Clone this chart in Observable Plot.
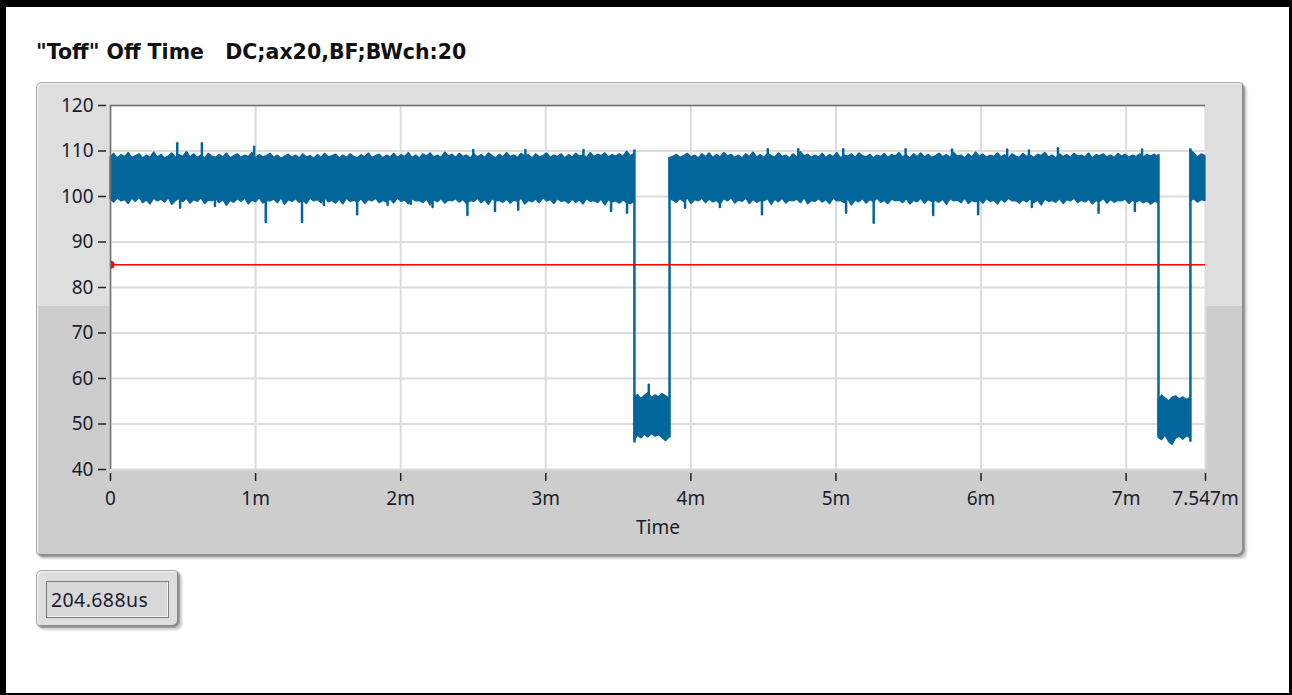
<!DOCTYPE html>
<html>
<head>
<meta charset="utf-8">
<script src="https://cdn.jsdelivr.net/npm/d3@7"></script>
<script src="https://cdn.jsdelivr.net/npm/@observablehq/plot@0.6"></script>
<style>
  html, body { margin: 0; padding: 0; background: #fff; }
  #page { position: relative; width: 1292px; height: 695px; background: #fff; overflow: hidden; font-family: "Noto Sans", sans-serif; }
  #border { position: absolute; left: 0; top: 0; width: 1292px; height: 695px; box-sizing: border-box;
            border-style: solid; border-color: #000; border-width: 7px 3px 2px 6px; pointer-events: none; z-index: 10; }
  #title { position: absolute; left: 36px; top: 40px; font-family: "DejaVu Sans", sans-serif; font-weight: 700; font-size: 20.5px; color: #111; white-space: pre; letter-spacing: 0px; }
  #panel { position: absolute; left: 36px; top: 82px; width: 1209px; height: 475px; box-sizing: border-box;
           border: 1px solid #a2a2a2; border-radius: 6px;
           background: linear-gradient(to bottom, #dedede 0px, #dedede 223px, #cdcdcd 223px, #cdcdcd 100%);
           box-shadow: inset 1px 1px 0 #f6f6f6, inset -2px -2px 0 #8e8e8e, 2px 2px 2px #cfcfcf; }
  #chart { position: absolute; left: 36px; top: 82px; }
  #ind { position: absolute; left: 36px; top: 570px; width: 144px; height: 58px; box-sizing: border-box;
         border: 1px solid #a2a2a2; border-radius: 6px; background: #dedede;
         box-shadow: inset 1px 1px 0 #f6f6f6, inset -2px -2px 0 #8e8e8e, 2px 2px 2px #cfcfcf; }
  #indbox { position: absolute; left: 46px; top: 581px; width: 123px; height: 37px; box-sizing: border-box;
            border: 1px solid #7c7c7c; background: #d8d8d8; box-shadow: inset -1px -1px 0 #f4f4f4;
            font-size: 19.5px; line-height: 35px; padding-left: 4px; color: #1c1c30; white-space: pre; letter-spacing: 0.4px; }
</style>
</head>
<body>
<div id="page">
  <div id="title"></div>
  <div id="panel"></div>
  <div id="chart"></div>
  <div id="ind"></div>
  <div id="indbox"></div>
  <div id="border"></div>
</div>
<script>
// ---- texts ----
const titleText = "\"Toff\" Off Time   DC;ax20,BF;BWch:20";
const xLabel = "Time";
const indicatorText = "204.688us";

// ---- axes ----
const xTicks = [0, 1, 2, 3, 4, 5, 6, 7, 7.547];          // ms
const xTickLabels = ["0", "1m", "2m", "3m", "4m", "5m", "6m", "7m", "7.547m"];
const yTicks = [40, 50, 60, 70, 80, 90, 100, 110, 120];
const xDomain = [0, 7.547];
const yDomain = [40, 120];

// ---- threshold ----
const threshold = 85;

// ---- segment boundaries (ms) ----
const segNames  = ["on1", "off1", "on2", "off2", "on3"];
const segStarts = [0, 3.611, 3.853, 7.223, 7.443];
const segEnds   = [3.611, 3.853, 7.223, 7.443, 7.547];

// ---- envelope (max / min) of the noisy trace ----
const on1Hi = [108.6,109.4,108.4,109.1,108.7,109.6,108.5,108.9,109.3,108.4,
               109.0,108.5,109.7,108.6,109.2,108.4,108.8,109.5,108.5,109.1,
               108.7,109.8,108.6,109.3,108.5,109.0,108.4,109.4,108.8,108.5,
               109.2,108.6,109.5,108.4,108.9,109.3,108.5,109.0,108.7,109.6,
               108.4,109.1,108.6,108.9,109.4,108.5,109.0,108.3,108.8,109.2,
               108.5,109.0,108.4,109.3,108.6,108.9,108.3,109.1,108.5,109.4,
               108.6,108.9,109.2,108.4,109.0,108.5,109.3,108.7,108.4,109.1,
               108.6,109.5,108.5,108.9,109.2,108.4,109.0,108.6,109.4,108.5,
               109.1,108.7,109.6,108.5,109.0,108.4,109.3,108.8,109.5,108.6,
               109.0,108.5,109.7,108.8,109.2,108.5,109.4,108.7,109.0,108.4,
               109.3,108.6,109.1,108.5,109.5,108.9,108.4,109.2,108.6,109.6,
               108.7,109.0,108.5,109.4,108.8,109.1,108.4,109.3,108.6,108.9,
               109.5,108.5,109.0,108.7,109.3,108.4,109.1,108.6,109.4,108.8,
               109.0,108.5,109.6,108.7,109.2,108.9,109.5,108.6,109.1,108.8,
               109.3,108.7,109.9,108.8,109.4];
const on1Lo = [99.4,98.6,99.6,98.9,99.2,98.3,99.5,98.8,99.7,98.5,
               99.1,98.2,99.5,98.9,99.3,98.6,99.6,98.1,99.0,99.4,
               98.7,99.5,98.4,99.2,98.8,99.6,98.3,99.1,98.9,99.5,
               98.5,99.2,97.9,99.0,98.6,99.4,98.8,99.5,98.2,99.1,
               98.7,99.6,98.4,99.0,98.9,99.3,98.5,99.6,98.1,99.2,
               98.8,99.4,98.6,99.1,98.3,99.5,98.9,99.2,98.5,99.6,
               98.7,99.0,98.4,99.3,98.2,99.5,98.8,99.1,98.6,99.4,
               98.3,99.2,98.9,99.5,98.5,99.0,98.7,99.3,98.4,99.6,
               98.8,99.1,98.2,99.4,98.9,99.0,98.5,99.3,98.0,99.2,
               98.7,99.5,98.4,99.1,98.9,99.4,98.6,99.2,98.3,99.0,
               98.8,99.5,98.5,99.2,98.1,99.4,98.9,99.0,98.6,99.3,
               98.4,99.1,98.8,99.5,98.2,99.0,98.7,99.3,98.5,99.6,
               98.9,99.2,98.3,99.4,98.8,99.0,98.4,99.3,98.6,99.1,
               98.2,99.4,98.8,99.0,98.5,99.3,98.0,99.2,98.7,98.9,
               98.4,99.1,98.6,98.3,98.8];
const off1Hi = [55.8,56.4,55.5,56.2,56.8,55.7,56.3,55.9,56.6,56.1,55.6];
const off1Lo = [46.3,47.4,46.8,47.6,47.0,47.8,47.2,47.5,46.9,46.2,47.0];
const on2Hi = [108.4,108.7,109.2,108.5,108.9,109.4,108.6,109.0,108.4,109.3,
               108.7,109.5,108.5,109.1,108.6,109.6,108.8,109.2,108.5,109.0,
               108.4,109.3,108.7,109.7,108.6,109.1,108.5,109.4,108.9,108.6,
               109.5,108.7,109.0,108.4,109.3,108.6,109.8,108.8,109.2,108.5,
               109.0,108.6,109.4,108.5,109.1,108.7,109.6,108.4,109.0,108.8,
               109.3,108.5,109.5,108.9,108.6,109.2,108.4,109.0,108.7,109.4,
               108.5,109.1,108.8,109.6,108.6,109.0,108.4,109.3,108.7,109.5,
               108.6,109.2,108.5,108.9,109.4,108.7,109.1,108.5,109.6,108.8,
               109.0,108.4,109.3,108.6,109.7,108.8,109.2,108.5,109.0,108.7,
               109.5,108.6,109.1,108.4,109.3,108.8,108.5,109.4,108.7,109.0,
               108.5,109.2,108.9,109.6,108.6,109.0,108.4,109.3,108.7,109.1,
               108.5,109.4,108.8,109.0,108.6,109.5,108.4,109.1,108.9,109.3,
               108.6,109.0,108.5,109.4,108.8,109.2,108.5,109.0,108.7,109.3,
               108.6,109.1,108.8,109.2,108.7];
const on2Lo = [99.5,99.1,98.6,99.4,98.8,99.6,98.3,99.2,98.9,99.5,
               98.5,99.3,98.7,99.0,98.2,99.4,98.9,99.6,98.4,99.1,
               98.8,99.5,98.3,99.2,98.6,99.0,98.9,99.4,98.1,99.3,
               98.7,99.5,98.4,99.1,98.9,99.3,98.5,99.6,98.2,99.0,
               98.8,99.4,98.6,99.2,98.3,99.5,98.9,99.0,98.5,99.3,
               98.0,99.1,98.7,99.4,98.4,99.2,98.8,99.5,98.6,99.0,
               98.3,99.3,98.9,99.1,98.5,99.4,98.2,99.0,98.7,99.5,
               98.4,99.2,98.8,99.0,98.6,99.3,98.1,99.4,98.9,99.1,
               98.5,99.5,98.3,99.0,98.7,99.2,98.4,99.4,98.8,99.1,
               98.2,99.3,98.6,99.5,98.9,99.0,98.4,99.2,98.7,99.4,
               98.5,99.1,98.0,99.3,98.8,99.0,98.6,99.4,98.3,99.2,
               98.9,99.5,98.5,99.1,98.7,99.3,98.2,99.0,98.8,99.4,
               98.4,99.2,98.6,99.0,98.9,99.3,98.3,99.1,98.7,99.0,
               98.5,98.9,98.2,98.8,98.6];
const off2Hi = [55.2,56.3,55.6,55.0,55.8,56.1,55.4,55.9,55.3,55.7];
const off2Lo = [47.0,46.4,47.5,46.0,45.4,46.8,47.2,46.5,47.3,46.9];
const on3Hi = [110.2,109.5,108.6,109.3,108.9];
const on3Lo = [98.8,99.4,98.6,99.2,99.0];

// ---- isolated spikes (ms, value) ----
const upSpikeT   = [0.46, 0.63, 0.99, 2.50, 2.86, 3.26, 4.53, 4.74, 5.05, 5.48, 5.80, 6.18, 6.33, 6.53, 7.11];
const upSpikeV   = [111.6, 111.6, 110.8, 110.1, 110.1, 110.1, 110.3, 110.3, 110.3, 110.3, 110.2, 110.2, 110.0, 110.5, 110.2];
const downSpikeT = [0.48, 0.72, 1.07, 1.32, 1.47, 1.70, 1.91, 2.07, 2.22, 2.46, 2.65, 2.81, 3.45, 3.56,
                    3.96, 4.20, 4.49, 5.07, 5.26, 5.67, 5.98, 6.35, 6.81, 7.06];
const downSpikeV = [97.4, 97.8, 94.3, 94.3, 98.0, 96.0, 98.0, 98.3, 97.6, 95.8, 96.7, 97.0, 96.7, 96.3,
                    97.4, 97.6, 96.0, 96.3, 94.1, 95.8, 96.0, 97.6, 96.3, 96.7];
const dipUpSpikeT = [3.71];
const dipUpSpikeV = [58.5];

// ---- transitions (ms, top, bottom) ----
const edgeT      = [3.611, 3.853, 7.223, 7.443];
const edgeTop    = [110.2, 108.6, 109.2, 110.5];
const edgeBottom = [45.8, 47.0, 47.5, 46.0];

// ---- build tables ----
const segHi = [on1Hi, off1Hi, on2Hi, off2Hi, on3Hi];
const segLo = [on1Lo, off1Lo, on2Lo, off2Lo, on3Lo];
const rows = [];
segNames.forEach((name, s) => {
  const hi = segHi[s], lo = segLo[s], n = hi.length;
  hi.forEach((h, i) => rows.push({seg: name, t: segStarts[s] + (segEnds[s] - segStarts[s]) * i / (n - 1), hi: h, lo: lo[i]}));
});
const spikes = [
  ...upSpikeT.map((t, i) => ({t, base: 104, v: upSpikeV[i]})),
  ...downSpikeT.map((t, i) => ({t, base: 104, v: downSpikeV[i]})),
  ...dipUpSpikeT.map((t, i) => ({t, base: 51, v: dipUpSpikeV[i]}))
];
const edges = edgeT.map((t, i) => ({t, top: edgeTop[i], bottom: edgeBottom[i]}));

document.getElementById("title").textContent = titleText;
document.getElementById("indbox").textContent = indicatorText;

const blue = "#03669b";
const tickFmt = d => xTickLabels[xTicks.indexOf(d)];

const chart = Plot.plot({
  width: 1209,
  height: 475,
  marginLeft: 74,
  marginRight: 40,
  marginTop: 23,
  marginBottom: 88,
  style: {background: "transparent", fontFamily: "'Noto Sans', sans-serif", fontSize: "19px", color: "#1c1c30", overflow: "visible"},
  x: {domain: xDomain, axis: null},
  y: {domain: yDomain, axis: null},
  marks: [
    Plot.frame({fill: "white", stroke: null}),
    Plot.ruleX(xTicks, {stroke: "#dcdcdc", strokeWidth: 2}),
    Plot.ruleY(yTicks, {stroke: "#dcdcdc", strokeWidth: 2}),
    Plot.areaY(rows, {x: "t", y1: "lo", y2: "hi", z: "seg", fill: blue, stroke: blue, strokeWidth: 1.2, strokeLinejoin: "miter", curve: "linear"}),
    Plot.ruleX(spikes, {x: "t", y1: "base", y2: "v", stroke: blue, strokeWidth: 2.5, strokeLinecap: "round"}),
    Plot.ruleX(edges, {x: "t", y1: "bottom", y2: "top", stroke: blue, strokeWidth: 2.5}),
    Plot.ruleY([threshold], {stroke: "#ff0000", strokeWidth: 1.5}),
    Plot.dot([{t: 0, v: threshold}], {x: "t", y: "v", r: 4, fill: "#ff0000", clip: "frame"}),
    Plot.ruleY([yDomain[1]], {stroke: "#707070", strokeWidth: 1.5}),
    Plot.ruleX([xDomain[0]], {stroke: "#707070", strokeWidth: 1.5}),
    Plot.axisY({ticks: yTicks, tickSize: 8, tickPadding: 5, dx: -4, label: null, stroke: "#222", strokeWidth: 1.5, fill: "#1c1c30"}),
    Plot.axisX({ticks: xTicks, tickFormat: tickFmt, tickSize: 8, tickPadding: 10, dy: 4, label: null, stroke: "#222", strokeWidth: 1.5, fill: "#1c1c30"}),
    Plot.text([xLabel], {frameAnchor: "bottom", dy: 64, fill: "#1c1c30", fontSize: 19})
  ]
});
document.getElementById("chart").appendChild(chart);
</script>
</body>
</html>
